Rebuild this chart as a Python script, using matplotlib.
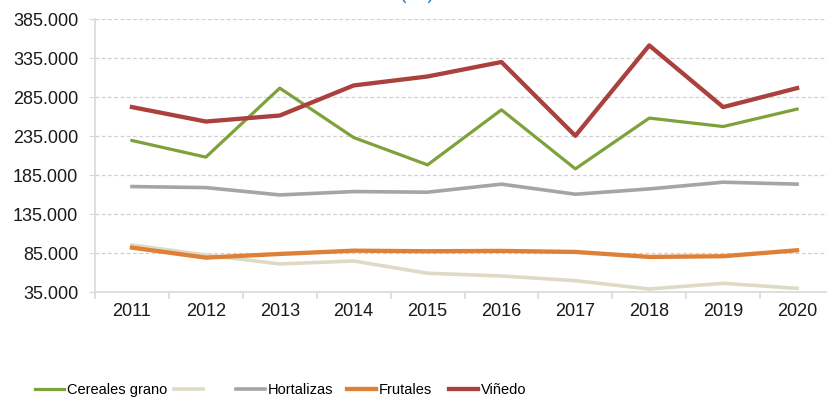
import matplotlib
matplotlib.use("Agg")
import matplotlib.pyplot as plt
from matplotlib.ticker import FuncFormatter, FixedLocator

plt.rcParams['font.family'] = ['Liberation Sans', 'DejaVu Sans']

years = ['2011', '2012', '2013', '2014', '2015', '2016', '2017', '2018', '2019', '2020']
cereales = [229400, 208100, 296500, 233200, 198200, 268700, 193100, 258100, 247300, 269600]
sin_nombre = [95600, 82800, 71300, 75100, 59400, 55900, 49900, 39200, 46500, 40100]
hortalizas = [170400, 169100, 159700, 164000, 163200, 173500, 160600, 167400, 176000, 173500]
frutales = [92200, 79400, 84100, 88300, 87600, 88000, 86700, 80300, 81200, 88800]
vinedo = [272200, 253700, 261400, 299900, 311400, 329900, 235400, 351200, 272200, 296500]
yticks = [35000, 85000, 135000, 185000, 235000, 285000, 335000, 385000]
labels = ['Cereales grano', '', 'Hortalizas', 'Frutales', 'Viñedo']
title = '(ha)'

W, H = 827, 403
fig = plt.figure(figsize=(W / 100, H / 100), dpi=100)
left, right, bottom, top = 95, 834, 292.3, 19
ax = fig.add_axes([left / W, (H - bottom) / H, (right - left) / W, (bottom - top) / H])

x = list(range(len(years)))
l1, = ax.plot(x, cereales, color='#7DA23A', lw=2.3, zorder=3)
l2, = ax.plot(x, sin_nombre, color='#DEDAC6', lw=2.6, zorder=2)
l3, = ax.plot(x, hortalizas, color='#A5A5A5', lw=2.6, zorder=3)
l4, = ax.plot(x, frutales, color='#DF8037', lw=3.1, zorder=3)
l5, = ax.plot(x, vinedo, color='#AA413E', lw=3.1, zorder=4)

ax.set_xlim(-0.5, 9.5)
ax.set_ylim(35000, 385000)
ax.set_yticks(yticks)
ax.yaxis.set_major_formatter(FuncFormatter(lambda v, p: f"{int(v):,}".replace(',', '.')))
ax.set_xticks(x)
ax.set_xticklabels(years)
ax.xaxis.set_minor_locator(FixedLocator([i - 0.5 for i in range(11)]))

ax.grid(axis='y', color='#D0D0D0', linestyle=(0, (3, 2)), lw=0.9)
ax.set_axisbelow(True)
for s in ['top', 'right']:
    ax.spines[s].set_visible(False)
for s in ['left', 'bottom']:
    ax.spines[s].set_color('#D9D9D9')
    ax.spines[s].set_linewidth(1.2)

ax.tick_params(axis='y', length=4, color='#D9D9D9', labelsize=13, pad=8, labelcolor='#1a1a1a')
ax.tick_params(axis='x', which='major', length=0, labelsize=13, pad=8, labelcolor='#1a1a1a')
ax.tick_params(axis='x', which='minor', length=5, color='#D9D9D9', width=1.2)

fig.text(417 / W, 1.0 + 1 / H, title, color='#2E75B6', fontsize=14, ha='center', va='baseline')

# one legend entry per series, each placed where the reference shows it
fs = 10.5
handle_x = [35, 174, 236, 347, 449]
for h, lab, hx in zip([l1, l2, l3, l4, l5], labels, handle_x):
    fig.legend([h], [lab], loc='center left', bbox_to_anchor=(hx / W, (H - 390) / H),
               frameon=False, fontsize=fs, borderpad=0, borderaxespad=0,
               handlelength=2.85 * 10.5 / fs * 0.7, handletextpad=0.2)

fig.savefig('out.png', dpi=100)
